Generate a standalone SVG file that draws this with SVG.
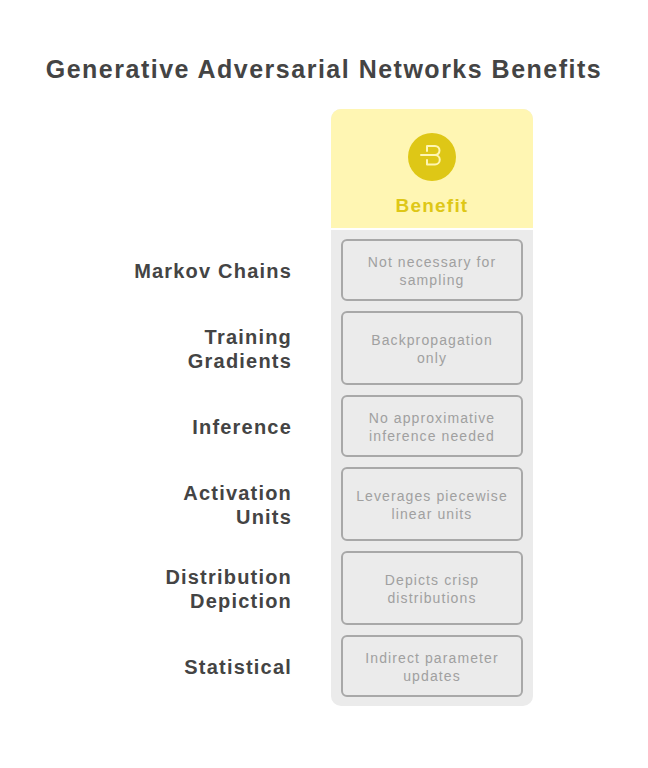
<svg xmlns="http://www.w3.org/2000/svg" width="648" height="768" viewBox="0 0 648 768">
<style>
.title{font-family:"Liberation Sans",Arial,sans-serif;font-weight:bold;font-size:25px;letter-spacing:1.5px;fill:#444444}
.lbl{font-family:"Liberation Sans",Arial,sans-serif;font-weight:bold;font-size:20px;letter-spacing:1.2px;fill:#444444;text-anchor:end}
.cell{fill:#EBEBEB;stroke:#A8A8A8;stroke-width:2}
.ct{font-family:"Liberation Sans",Arial,sans-serif;font-size:14px;letter-spacing:1.1px;fill:#A0A0A0;text-anchor:middle}
.hd{font-family:"Liberation Sans",Arial,sans-serif;font-weight:bold;font-size:19px;letter-spacing:1.2px;fill:#DEC716;text-anchor:middle}
</style>
<rect width="648" height="768" fill="#FFFFFF"/>
<text class="title" x="324" y="78" text-anchor="middle">Generative Adversarial Networks Benefits</text>
<g id="column">
<rect x="331" y="109" width="202" height="597" rx="10" fill="#EBEBEB"/>
<path d="M331 228 V119 A10 10 0 0 1 341 109 H523 A10 10 0 0 1 533 119 V228 Z" fill="#FFF6B3"/>
<rect x="331" y="228" width="202" height="2" fill="#FFFFFF"/>
</g>
<g id="header">
<circle cx="432" cy="157" r="24" fill="#DEC716"/>
<path d="M427 151 V146 H435 A4.5 4.5 0 0 1 435 155 H421 M435 155 A4.7 4.7 0 0 1 435 164.5 H427 V160" fill="none" stroke="#FFF6B3" stroke-width="2" stroke-linecap="round" stroke-linejoin="round"/>
<text class="hd" x="432" y="212">Benefit</text>
</g>
<g id="row1">
<text class="lbl" x="292" y="278">Markov Chains</text>
<rect class="cell" x="342" y="240" width="180" height="60" rx="5"/>
<text class="ct" x="432" y="267">Not necessary for</text>
<text class="ct" x="432" y="285">sampling</text>
</g>
<g id="row2">
<text class="lbl" x="292" y="344">Training</text>
<text class="lbl" x="292" y="368">Gradients</text>
<rect class="cell" x="342" y="312" width="180" height="72" rx="5"/>
<text class="ct" x="432" y="345">Backpropagation</text>
<text class="ct" x="432" y="363">only</text>
</g>
<g id="row3">
<text class="lbl" x="292" y="434">Inference</text>
<rect class="cell" x="342" y="396" width="180" height="60" rx="5"/>
<text class="ct" x="432" y="423">No approximative</text>
<text class="ct" x="432" y="441">inference needed</text>
</g>
<g id="row4">
<text class="lbl" x="292" y="500">Activation</text>
<text class="lbl" x="292" y="524">Units</text>
<rect class="cell" x="342" y="468" width="180" height="72" rx="5"/>
<text class="ct" x="432" y="501">Leverages piecewise</text>
<text class="ct" x="432" y="519">linear units</text>
</g>
<g id="row5">
<text class="lbl" x="292" y="584">Distribution</text>
<text class="lbl" x="292" y="608">Depiction</text>
<rect class="cell" x="342" y="552" width="180" height="72" rx="5"/>
<text class="ct" x="432" y="585">Depicts crisp</text>
<text class="ct" x="432" y="603">distributions</text>
</g>
<g id="row6">
<text class="lbl" x="292" y="674">Statistical</text>
<rect class="cell" x="342" y="636" width="180" height="60" rx="5"/>
<text class="ct" x="432" y="663">Indirect parameter</text>
<text class="ct" x="432" y="681">updates</text>
</g>
<g id="connectors"></g>
</svg>
